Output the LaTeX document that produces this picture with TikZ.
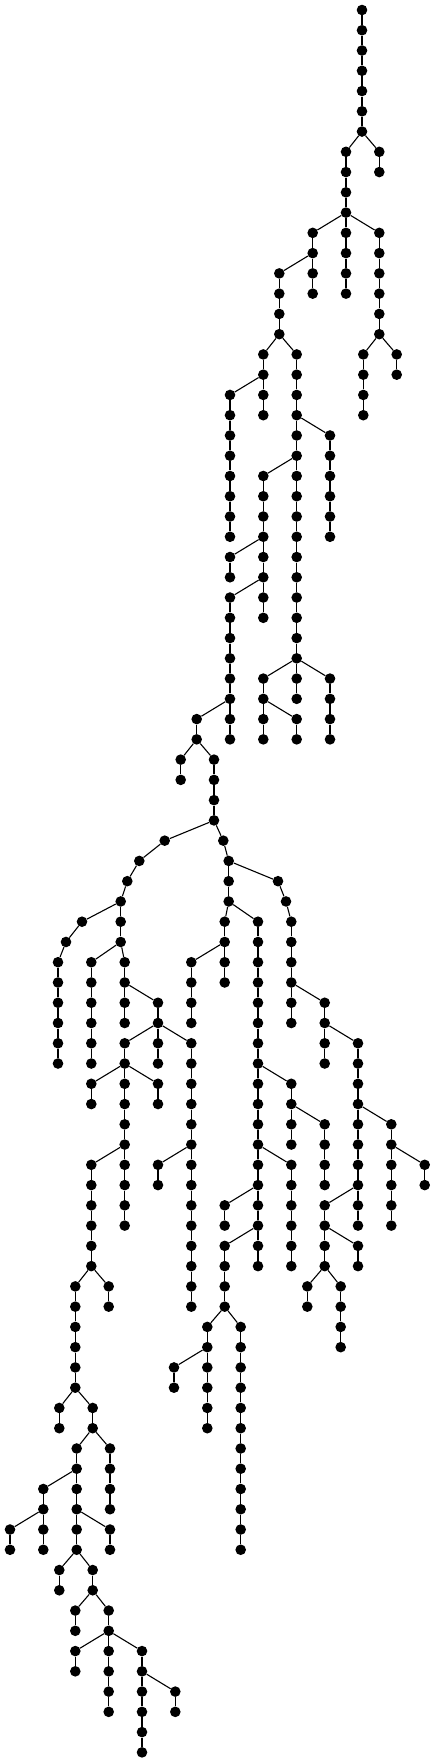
\documentclass[tikz,border=0pt]{standalone}
\begin{document}
\begin{tikzpicture}[x=1pt,y=-1pt,
  dot/.style={circle,fill=black,draw=none,inner sep=0pt,minimum size=10.6pt},
  edge/.style={line width=1.1pt,black}]
\useasboundingbox (0,0) rectangle (435,1763);
\newcommand\V[4]{%
  \pgfmathtruncatemacro\pl{#1-1}%
  \node[dot] (a#1x#2) at (#4,{10+20.26*#1}) {};
  \draw[edge] (a\pl x#3) -- (a#1x#2);}
\node[dot] (a0x362) at (362,10) {};
\V{1}{362}{362}{362} \V{2}{362}{362}{362} \V{3}{362}{362}{362}
\V{4}{362}{362}{362} \V{5}{362}{362}{362} \V{6}{362}{362}{362}
\V{7}{346}{362}{346} \V{7}{379}{362}{379.3}
\V{8}{346}{346}{346} \V{8}{379}{379}{379.3}
\V{9}{346}{346}{346}
\V{10}{346}{346}{346}
\V{11}{313}{346}{312.7} \V{11}{346}{346}{346} \V{11}{379}{346}{379.3}
\V{12}{313}{313}{312.7} \V{12}{346}{346}{346} \V{12}{379}{379}{379.3}
\V{13}{279}{313}{279.3} \V{13}{313}{313}{312.7} \V{13}{346}{346}{346} \V{13}{379}{379}{379.3}
\V{14}{279}{279}{279.3} \V{14}{313}{313}{312.7} \V{14}{346}{346}{346} \V{14}{379}{379}{379.3}
\V{15}{279}{279}{279.3} \V{15}{379}{379}{379.3}
\V{16}{279}{279}{279.3} \V{16}{379}{379}{379.3}
\V{17}{263}{279}{263.3} \V{17}{297}{279}{296.7} \V{17}{363}{379}{363.3} \V{17}{397}{379}{396.7}
\V{18}{263}{263}{263.3} \V{18}{297}{297}{296.7} \V{18}{363}{363}{363.3} \V{18}{397}{397}{396.7}
\V{19}{230}{263}{230} \V{19}{263}{263}{263.3} \V{19}{297}{297}{296.7} \V{19}{363}{363}{363.3}
\V{20}{230}{230}{230} \V{20}{263}{263}{263.3} \V{20}{297}{297}{296.7} \V{20}{363}{363}{363.3}
\V{21}{230}{230}{230} \V{21}{297}{297}{296.7} \V{21}{330}{297}{330}
\V{22}{230}{230}{230} \V{22}{297}{297}{296.7} \V{22}{330}{330}{330}
\V{23}{230}{230}{230} \V{23}{263}{297}{263.3} \V{23}{297}{297}{296.7} \V{23}{330}{330}{330}
\V{24}{230}{230}{230} \V{24}{263}{263}{263.3} \V{24}{297}{297}{296.7} \V{24}{330}{330}{330}
\V{25}{230}{230}{230} \V{25}{263}{263}{263.3} \V{25}{297}{297}{296.7} \V{25}{330}{330}{330}
\V{26}{230}{230}{230} \V{26}{263}{263}{263.3} \V{26}{297}{297}{296.7} \V{26}{330}{330}{330}
\V{27}{230}{263}{230} \V{27}{263}{263}{263.3} \V{27}{297}{297}{296.7}
\V{28}{230}{230}{230} \V{28}{263}{263}{263.3} \V{28}{297}{297}{296.7}
\V{29}{230}{263}{230} \V{29}{263}{263}{263.3} \V{29}{297}{297}{296.7}
\V{30}{230}{230}{230} \V{30}{263}{263}{263.3} \V{30}{297}{297}{296.7}
\V{31}{230}{230}{230} \V{31}{297}{297}{296.7}
\V{32}{230}{230}{230} \V{32}{297}{297}{296.7}
\V{33}{230}{230}{230} \V{33}{263}{297}{263.3} \V{33}{297}{297}{296.7} \V{33}{330}{297}{330}
\V{34}{230}{230}{230} \V{34}{263}{263}{263.3} \V{34}{297}{297}{296.7} \V{34}{330}{330}{330}
\V{35}{197}{230}{196.7} \V{35}{230}{230}{230} \V{35}{263}{263}{263.3} \V{35}{297}{263}{296.7} \V{35}{330}{330}{330}
\V{36}{197}{197}{196.7} \V{36}{230}{230}{230} \V{36}{263}{263}{263.3} \V{36}{297}{297}{296.7} \V{36}{330}{330}{330}
\V{37}{181}{197}{180.7} \V{37}{214}{197}{214}
\V{38}{181}{181}{180.7} \V{38}{214}{214}{214}
\V{39}{214}{214}{214}
\V{40}{214}{214}{214}
\V{41}{165}{214}{164.7} \V{41}{223}{214}{223.3}
\V{42}{139}{165}{139.3} \V{42}{229}{223}{228.7}
\V{43}{127}{139}{127.3} \V{43}{229}{229}{228.7} \V{43}{278}{229}{278}
\V{44}{121}{127}{120.7} \V{44}{229}{229}{228.7} \V{44}{286}{278}{286}
\V{45}{82}{121}{82} \V{45}{121}{121}{120.7} \V{45}{225}{229}{224.7} \V{45}{258}{229}{258} \V{45}{291}{286}{291.3}
\V{46}{66}{82}{66} \V{46}{121}{121}{120.7} \V{46}{225}{225}{224.7} \V{46}{258}{258}{258} \V{46}{291}{291}{291.3}
\V{47}{58}{66}{58} \V{47}{91}{121}{91.3} \V{47}{125}{121}{124.7} \V{47}{191}{225}{191.3} \V{47}{225}{225}{224.7} \V{47}{258}{258}{258} \V{47}{291}{291}{291.3}
\V{48}{58}{58}{58} \V{48}{91}{91}{91.3} \V{48}{125}{125}{124.7} \V{48}{191}{191}{191.3} \V{48}{225}{225}{224.7} \V{48}{258}{258}{258} \V{48}{291}{291}{291.3}
\V{49}{58}{58}{58} \V{49}{91}{91}{91.3} \V{49}{125}{125}{124.7} \V{49}{158}{125}{158} \V{49}{191}{191}{191.3} \V{49}{258}{258}{258} \V{49}{291}{291}{291.3} \V{49}{325}{291}{324.7}
\V{50}{58}{58}{58} \V{50}{91}{91}{91.3} \V{50}{125}{125}{124.7} \V{50}{158}{158}{158} \V{50}{191}{191}{191.3} \V{50}{258}{258}{258} \V{50}{291}{291}{291.3} \V{50}{325}{325}{324.7}
\V{51}{58}{58}{58} \V{51}{91}{91}{91.3} \V{51}{125}{158}{124.7} \V{51}{158}{158}{158} \V{51}{191}{158}{191.3} \V{51}{258}{258}{258} \V{51}{325}{325}{324.7} \V{51}{358}{325}{358}
\V{52}{58}{58}{58} \V{52}{91}{91}{91.3} \V{52}{125}{125}{124.7} \V{52}{158}{158}{158} \V{52}{191}{191}{191.3} \V{52}{258}{258}{258} \V{52}{325}{325}{324.7} \V{52}{358}{358}{358}
\V{53}{91}{125}{91.3} \V{53}{125}{125}{124.7} \V{53}{158}{125}{158} \V{53}{191}{191}{191.3} \V{53}{258}{258}{258} \V{53}{291}{258}{291.3} \V{53}{358}{358}{358}
\V{54}{91}{91}{91.3} \V{54}{125}{125}{124.7} \V{54}{158}{158}{158} \V{54}{191}{191}{191.3} \V{54}{258}{258}{258} \V{54}{291}{291}{291.3} \V{54}{358}{358}{358}
\V{55}{125}{125}{124.7} \V{55}{191}{191}{191.3} \V{55}{258}{258}{258} \V{55}{291}{291}{291.3} \V{55}{325}{291}{324.7} \V{55}{358}{358}{358} \V{55}{391}{358}{391.3}
\V{56}{125}{125}{124.7} \V{56}{191}{191}{191.3} \V{56}{258}{258}{258} \V{56}{291}{291}{291.3} \V{56}{325}{325}{324.7} \V{56}{358}{358}{358} \V{56}{391}{391}{391.3}
\V{57}{91}{125}{91.3} \V{57}{125}{125}{124.7} \V{57}{158}{191}{158} \V{57}{191}{191}{191.3} \V{57}{258}{258}{258} \V{57}{291}{258}{291.3} \V{57}{325}{325}{324.7} \V{57}{358}{358}{358} \V{57}{391}{391}{391.3} \V{57}{425}{391}{424.7}
\V{58}{91}{91}{91.3} \V{58}{125}{125}{124.7} \V{58}{158}{158}{158} \V{58}{191}{191}{191.3} \V{58}{258}{258}{258} \V{58}{291}{291}{291.3} \V{58}{325}{325}{324.7} \V{58}{358}{358}{358} \V{58}{391}{391}{391.3} \V{58}{425}{425}{424.7}
\V{59}{91}{91}{91.3} \V{59}{125}{125}{124.7} \V{59}{191}{191}{191.3} \V{59}{225}{258}{224.7} \V{59}{258}{258}{258} \V{59}{291}{291}{291.3} \V{59}{325}{358}{324.7} \V{59}{358}{358}{358} \V{59}{391}{391}{391.3}
\V{60}{91}{91}{91.3} \V{60}{125}{125}{124.7} \V{60}{191}{191}{191.3} \V{60}{225}{225}{224.7} \V{60}{258}{258}{258} \V{60}{291}{291}{291.3} \V{60}{325}{325}{324.7} \V{60}{358}{358}{358} \V{60}{391}{391}{391.3}
\V{61}{91}{91}{91.3} \V{61}{191}{191}{191.3} \V{61}{225}{258}{224.7} \V{61}{258}{258}{258} \V{61}{291}{291}{291.3} \V{61}{325}{325}{324.7} \V{61}{358}{325}{358}
\V{62}{91}{91}{91.3} \V{62}{191}{191}{191.3} \V{62}{225}{225}{224.7} \V{62}{258}{258}{258} \V{62}{291}{291}{291.3} \V{62}{325}{325}{324.7} \V{62}{358}{358}{358}
\V{63}{75}{91}{75.3} \V{63}{109}{91}{108.7} \V{63}{191}{191}{191.3} \V{63}{225}{225}{224.7} \V{63}{307}{325}{307.3} \V{63}{341}{325}{340.7}
\V{64}{75}{75}{75.3} \V{64}{109}{109}{108.7} \V{64}{191}{191}{191.3} \V{64}{225}{225}{224.7} \V{64}{307}{307}{307.3} \V{64}{341}{341}{340.7}
\V{65}{75}{75}{75.3} \V{65}{207}{225}{207.3} \V{65}{241}{225}{240.7} \V{65}{341}{341}{340.7}
\V{66}{75}{75}{75.3} \V{66}{207}{207}{207.3} \V{66}{241}{241}{240.7} \V{66}{341}{341}{340.7}
\V{67}{75}{75}{75.3} \V{67}{174}{207}{174} \V{67}{207}{207}{207.3} \V{67}{241}{241}{240.7}
\V{68}{75}{75}{75.3} \V{68}{174}{174}{174} \V{68}{207}{207}{207.3} \V{68}{241}{241}{240.7}
\V{69}{59}{75}{59.3} \V{69}{93}{75}{92.7} \V{69}{207}{207}{207.3} \V{69}{241}{241}{240.7}
\V{70}{59}{59}{59.3} \V{70}{93}{93}{92.7} \V{70}{207}{207}{207.3} \V{70}{241}{241}{240.7}
\V{71}{77}{93}{76.7} \V{71}{110}{93}{110} \V{71}{241}{241}{240.7}
\V{72}{77}{77}{76.7} \V{72}{110}{110}{110} \V{72}{241}{241}{240.7}
\V{73}{43}{77}{43.3} \V{73}{77}{77}{76.7} \V{73}{110}{110}{110} \V{73}{241}{241}{240.7}
\V{74}{43}{43}{43.3} \V{74}{77}{77}{76.7} \V{74}{110}{110}{110} \V{74}{241}{241}{240.7}
\V{75}{10}{43}{10} \V{75}{43}{43}{43.3} \V{75}{77}{77}{76.7} \V{75}{110}{77}{110} \V{75}{241}{241}{240.7}
\V{76}{10}{10}{10} \V{76}{43}{43}{43.3} \V{76}{77}{77}{76.7} \V{76}{110}{110}{110} \V{76}{241}{241}{240.7}
\V{77}{59}{77}{59.3} \V{77}{93}{77}{92.7}
\V{78}{59}{59}{59.3} \V{78}{93}{93}{92.7}
\V{79}{75}{93}{75.3} \V{79}{109}{93}{108.7}
\V{80}{75}{75}{75.3} \V{80}{109}{109}{108.7}
\V{81}{75}{109}{75.3} \V{81}{109}{109}{108.7} \V{81}{142}{109}{142}
\V{82}{75}{75}{75.3} \V{82}{109}{109}{108.7} \V{82}{142}{142}{142}
\V{83}{109}{109}{108.7} \V{83}{142}{142}{142} \V{83}{175}{142}{175.3}
\V{84}{109}{109}{108.7} \V{84}{142}{142}{142} \V{84}{175}{175}{175.3}
\V{85}{142}{142}{142}
\V{86}{142}{142}{142}
\end{tikzpicture}
\end{document}
